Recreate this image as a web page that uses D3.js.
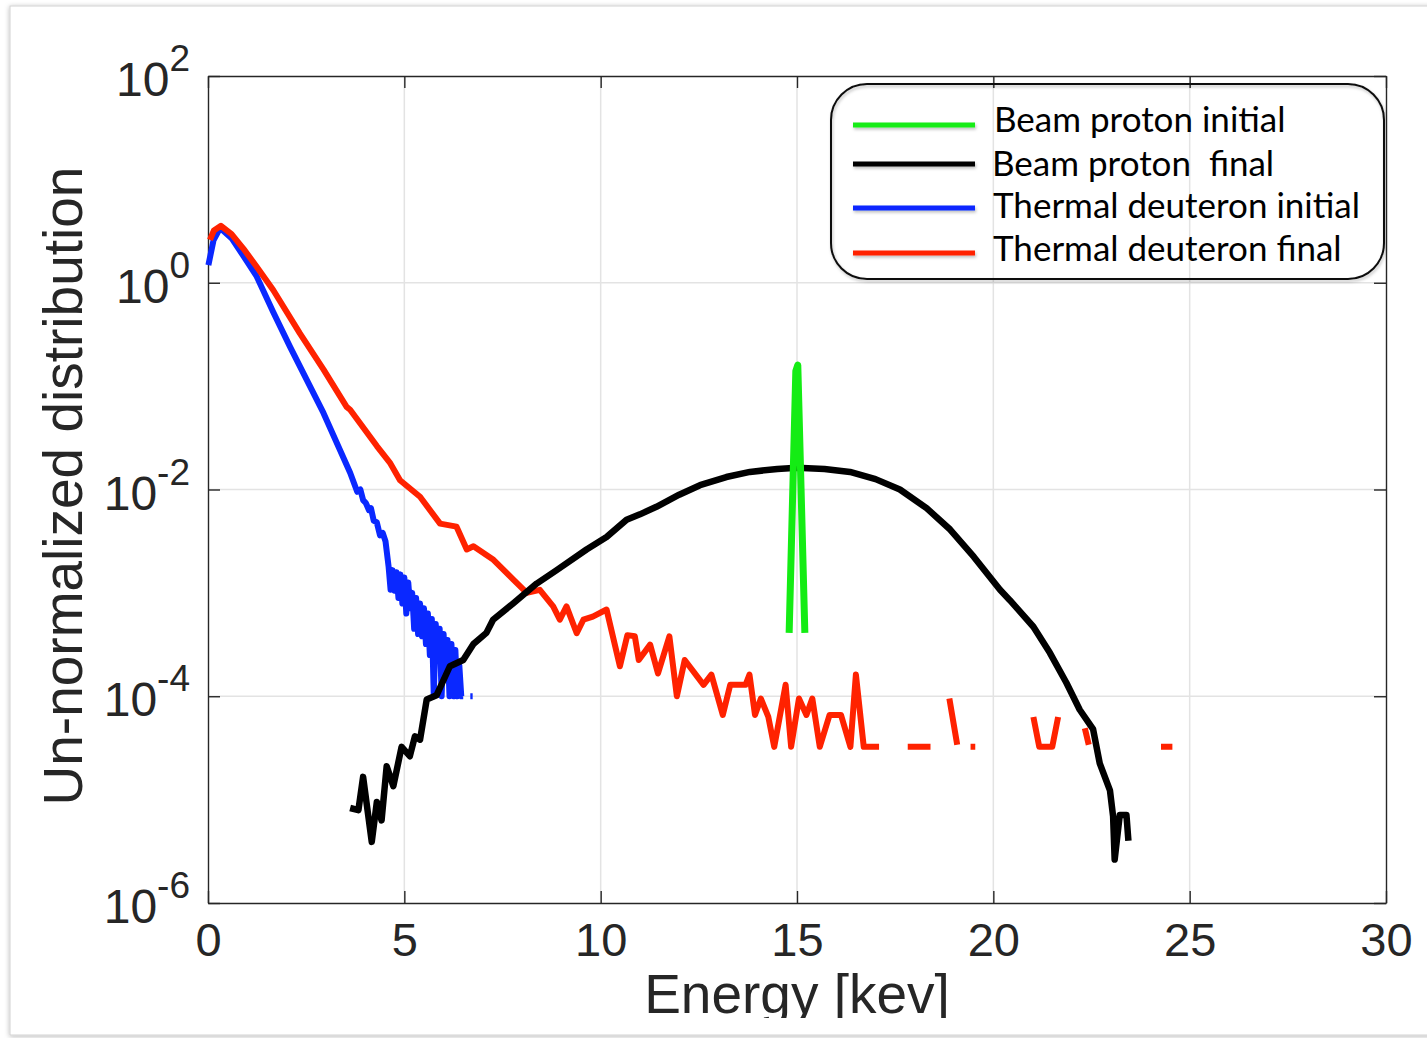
<!DOCTYPE html>
<html>
<head>
<meta charset="utf-8">
<script src="https://cdn.jsdelivr.net/npm/d3@7"></script>
<style>
  body { margin: 0; background: #ffffff; }
  svg { display: block; }
</style>
</head>
<body>
<div id="graph-container"></div>
<script>

/////////////////////////////////////////////////////////////////////////////
                      ///////    Data    ///////
/////////////////////////////////////////////////////////////////////////////

// Energy [keV] and un-normalized distribution; null = empty bin (gap)
var beam_initial_E = [14.8, 14.97, 15.02, 15.2];
var beam_initial_V = [4.1e-4, 0.14, 0.16, 4.1e-4];

var beam_final_E = [3.62, 3.83, 3.95, 4.17, 4.30, 4.42, 4.55, 4.72, 4.93, 5.14, 5.27, 5.40, 5.57, 5.82,
                    6.16, 6.50, 6.76, 7.09, 7.26, 7.77, 8.37, 8.88, 9.64, 10.15, 10.66, 11.0, 11.42, 12.0,
                    12.53, 13.2, 13.8, 14.5, 15.0, 15.7, 16.35, 17.0, 17.62, 18.3, 18.9, 19.5, 20.17,
                    20.42, 21.02, 21.44, 21.86, 22.2, 22.54, 22.71, 22.97, 23.05, 23.09, 23.22, 23.39,
                    23.44];
var beam_final_V = [8.3e-6, 7.9e-6, 1.66e-5, 3.9e-6, 9.5e-6, 6.3e-6, 2.1e-5, 1.35e-5, 3.24e-5, 2.63e-5,
                    4.1e-5, 3.8e-5, 9.3e-5, 1.02e-4, 1.95e-4, 2.24e-4, 3.2e-4, 4.1e-4, 5.5e-4, 7.9e-4,
                    1.23e-3, 1.66e-3, 2.63e-3, 3.47e-3, 5.1e-3, 5.75e-3, 6.8e-3, 8.9e-3, 0.011, 0.0132,
                    0.0148, 0.0158, 0.0162, 0.0158, 0.0148, 0.0126, 0.010, 6.6e-3, 4.1e-3, 2.24e-3,
                    1.07e-3, 8.5e-4, 4.7e-4, 2.63e-4, 1.35e-4, 7.4e-5, 4.8e-5, 2.24e-5, 1.23e-5, 6.9e-6,
                    2.63e-6, 7.1e-6, 7.1e-6, 4.0e-6];

var thermal_initial_E = [0.01, 0.14, 0.31, 0.6, 0.9, 1.24, 1.66, 2.09, 2.94, 3.62, 3.8, 3.88, 3.95, 4.02,
                         4.1, 4.15, 4.22, 4.3, 4.38, 4.45, 4.52, 4.6, 4.65, 4.7, 4.75, 4.8, 4.85, 4.9,
                         4.95, 5.0, 5.05, 5.1, 5.15, 5.2, 5.25, 5.3, 5.35, 5.4, 5.45, 5.5, 5.55, 5.6,
                         5.65, 5.7, 5.75, 5.8, 5.85, 5.9, 5.95, 6.0, 6.05, 6.1, 6.15, 6.2, 6.25, 6.3,
                         6.35, 6.4, 6.45, 6.5, 6.6, 6.68, 6.74];
var thermal_initial_V = [1.48, 2.57, 3.39, 2.7, 1.82, 1.15, 0.52, 0.24, 0.055, 0.0145, 0.0095, 0.010,
                         0.0079, 0.0074, 0.0063, 0.0066, 0.0050, 0.0048, 0.0036, 0.0038, 0.00316,
                         1.78e-3, 1.07e-3, 1.66e-3, 1.05e-3, 1.58e-3, 8.9e-4, 1.51e-3, 7.9e-4, 1.41e-3,
                         6.3e-4, 1.26e-3, 7.1e-4, 1.0e-3, 4.5e-4, 8.9e-4, 4.0e-4, 7.9e-4, 3.8e-4, 7.1e-4,
                         3.2e-4, 6.3e-4, 2.5e-4, 5.6e-4, 1.0e-4, 5.0e-4, 2.2e-4, 4.5e-4, 1.0e-4, 4.0e-4,
                         1.6e-4, 3.5e-4, 1.0e-4, 3.2e-4, 1.0e-4, 2.8e-4, 1.0e-4, 2.0e-4, 1.0e-4, 1.0e-4,
                         null, 1.0e-4, 1.0e-4];

var thermal_final_E = [0.05, 0.15, 0.33, 0.6, 0.9, 1.24, 1.66, 2.34, 2.94, 3.53, 3.62, 4.3, 4.63, 4.89,
                       5.4, 5.91, 6.33, 6.59, 6.76, 7.27, 7.77, 8.12, 8.45, 8.79, 8.96, 9.13, 9.39, 9.56,
                       9.8, 10.15, 10.49, 10.68, 10.87, 10.97, 11.26, 11.46, 11.75, 11.94, 12.14, 12.62,
                       12.82, 13.11, 13.30, 13.69, 13.79, 13.93, 14.08, 14.27, 14.42, 14.71, 14.85,
                       15.05, 15.24, 15.39, 15.58, 15.83, 16.12, 16.36, 16.5, 16.7, 17.09, 17.45,
                       17.82, 18.4, 18.6, 18.88, 19.08, 19.25, 19.42, 19.54, 20.3, 21.02, 21.17, 21.5,
                       21.65, 22.0, 22.33, 22.43, 23.3, 24.27, 24.56];
var thermal_final_V = [2.6, 3.2, 3.55, 2.95, 2.14, 1.43, 0.85, 0.324, 0.145, 0.063, 0.059, 0.0263,
                       0.0182, 0.0123, 0.0085, 0.00468, 0.00437, 0.00263, 0.00282, 0.00209, 0.00135,
                       0.0010, 0.00107, 7.4e-4, 5.5e-4, 7.4e-4, 4.07e-4, 5.5e-4, 5.9e-4, 6.9e-4, 1.95e-4,
                       3.9e-4, 3.8e-4, 2.24e-4, 3.16e-4, 1.66e-4, 3.8e-4, 1.0e-4, 2.24e-4, 1.29e-4,
                       1.62e-4, 6.6e-5, 1.29e-4, 1.29e-4, 1.62e-4, 6.6e-5, 9.5e-5, 6.3e-5, 3.24e-5,
                       1.29e-4, 3.24e-5, 9.5e-5, 6.6e-5, 9.5e-5, 3.24e-5, 6.6e-5, 6.6e-5, 3.24e-5,
                       1.62e-4, 3.24e-5, 3.24e-5, null, 3.24e-5, 3.24e-5, null, 9.5e-5, 3.4e-5, null,
                       3.24e-5, 3.24e-5, null, 6.3e-5, 3.24e-5, 3.24e-5, 6.3e-5, null, 4.9e-5, 3.4e-5,
                       null, 3.24e-5, 3.24e-5];

var x_ticks = [0, 5, 10, 15, 20, 25, 30];
var y_ticks = [1e-6, 1e-4, 1e-2, 1e0, 1e2];
var y_exponents = ['-6', '-4', '-2', '0', '2'];

var series_names = ['Beam proton initial', 'Beam proton\u00a0 final', 'Thermal deuteron initial', 'Thermal deuteron final'];
var series_colors = ['#14ec14', '#000000', '#0a28ff', '#ff2200'];

/////////////////////////////////////////////////////////////////////////////
                      ///////    Set Up Chart    ///////
/////////////////////////////////////////////////////////////////////////////

var W = 1427, H = 1038;
var plot = {left: 208, right: 1386, top: 76, bottom: 903};
var axis_color = '#262626';
var grid_color = '#e3e3e3';

var svg = d3.select('#graph-container').append('svg').attr('width', W).attr('height', H);

var defs = svg.append('defs');
var shadow = defs.append('filter').attr('id', 'frame-shadow')
                 .attr('x', '-5%').attr('y', '-5%').attr('width', '110%').attr('height', '110%');
shadow.append('feDropShadow').attr('dx', 0).attr('dy', 1).attr('stdDeviation', 2.5)
      .attr('flood-color', '#000').attr('flood-opacity', 0.28);
var soft = defs.append('filter').attr('id', 'soft-shadow').attr('filterUnits', 'userSpaceOnUse')
               .attr('x', 0).attr('y', 0).attr('width', W).attr('height', H);
soft.append('feDropShadow').attr('dx', 1).attr('dy', 2).attr('stdDeviation', 1.5)
    .attr('flood-color', '#000').attr('flood-opacity', 0.25);
defs.append('clipPath').attr('id', 'page-clip')
    .append('rect').attr('x', 0).attr('y', 0).attr('width', W).attr('height', 1018);

// slide frame
svg.append('rect').attr('x', 10).attr('y', 6).attr('width', W + 20).attr('height', 1029)
   .attr('fill', '#fff').attr('stroke', '#d2d2d2').attr('stroke-width', 1)
   .attr('filter', 'url(#frame-shadow)');

var x = d3.scaleLinear().domain([0, 30]).range([plot.left, plot.right]);
var y = d3.scaleLog().domain([1e-6, 1e2]).range([plot.bottom, plot.top]);

var g = svg.append('g');

// grid lines
g.append('g').selectAll('line').data(x_ticks.slice(1, -1)).enter().append('line')
 .attr('x1', d => x(d)).attr('x2', d => x(d)).attr('y1', plot.top).attr('y2', plot.bottom)
 .attr('stroke', grid_color).attr('stroke-width', 1.5);
g.append('g').selectAll('line').data(y_ticks.slice(1, -1)).enter().append('line')
 .attr('y1', d => y(d)).attr('y2', d => y(d)).attr('x1', plot.left).attr('x2', plot.right)
 .attr('stroke', grid_color).attr('stroke-width', 1.5);

// axes (ticks point inward, box on)
var tick_len = 12;
function style_axis(sel) {
    sel.select('.domain').attr('stroke', axis_color).attr('stroke-width', 1.4);
    sel.selectAll('.tick line').attr('stroke', axis_color).attr('stroke-width', 1.4);
}
var bottom_axis = g.append('g').attr('transform', `translate(0,${plot.bottom})`)
    .call(d3.axisBottom(x).tickValues(x_ticks).tickSizeInner(-tick_len).tickSizeOuter(0).tickPadding(20).tickFormat(d3.format('d')));
bottom_axis.selectAll('.tick text').attr('font-family', 'Liberation Sans, Arial, sans-serif')
    .attr('font-size', 47).attr('fill', axis_color).attr('dy', '0.71em');
style_axis(bottom_axis);

var top_axis = g.append('g').attr('transform', `translate(0,${plot.top})`)
    .call(d3.axisTop(x).tickValues(x_ticks).tickSizeInner(-tick_len).tickSizeOuter(0).tickFormat(''));
style_axis(top_axis);

var left_axis = g.append('g').attr('transform', `translate(${plot.left},0)`)
    .call(d3.axisLeft(y).tickValues(y_ticks).tickSizeInner(-tick_len).tickSizeOuter(0).tickFormat(''));
style_axis(left_axis);

var right_axis = g.append('g').attr('transform', `translate(${plot.right},0)`)
    .call(d3.axisRight(y).tickValues(y_ticks).tickSizeInner(-tick_len).tickSizeOuter(0).tickFormat(''));
style_axis(right_axis);

// y tick labels 10^n
var ylab = g.append('g').selectAll('text').data(y_ticks).enter().append('text')
    .attr('x', 190).attr('y', d => y(d) + 20)
    .attr('text-anchor', 'end')
    .attr('font-family', 'Liberation Sans, Arial, sans-serif')
    .attr('font-size', 48).attr('fill', axis_color);
ylab.append('tspan').text('10');
ylab.append('tspan').attr('font-size', 37).attr('dy', -25).text((d, i) => y_exponents[i]);

// axis titles
svg.append('text').attr('x', (plot.left + plot.right) / 2).attr('y', 1013)
   .attr('text-anchor', 'middle').attr('clip-path', 'url(#page-clip)')
   .attr('font-family', 'Liberation Sans, Arial, sans-serif').attr('font-size', 55)
   .attr('fill', axis_color).text('Energy [kev]');
svg.append('text').attr('transform', 'translate(82,486) rotate(-90)')
   .attr('text-anchor', 'middle')
   .attr('font-family', 'Liberation Sans, Arial, sans-serif').attr('font-size', 55)
   .attr('fill', axis_color).text('Un-normalized distribution');

/////////////////////////////////////////////////////////////////////////////
                      ///////    Series    ///////
/////////////////////////////////////////////////////////////////////////////

var zip = (E, V) => E.map((e, i) => ({e: e, v: V[i]}));
var series = [
    {data: zip(beam_initial_E, beam_initial_V), width: 7},
    {data: zip(beam_final_E, beam_final_V), width: 6.5},
    {data: zip(thermal_initial_E, thermal_initial_V), width: 6},
    {data: zip(thermal_final_E, thermal_final_V), width: 6}
];

var line = d3.line().defined(d => d.v != null).x(d => x(d.e)).y(d => y(d.v));

var draw_order = [2, 3, 1, 0];
var lines_g = g.append('g');
draw_order.forEach(i => {
    lines_g.append('path').datum(series[i].data)
        .attr('d', line)
        .attr('fill', 'none')
        .attr('stroke', series_colors[i])
        .attr('stroke-width', series[i].width)
        .attr('stroke-linejoin', 'round')
        .attr('stroke-linecap', 'butt');
});

/////////////////////////////////////////////////////////////////////////////
                      ///////    Legend    ///////
/////////////////////////////////////////////////////////////////////////////

var legend = svg.append('g');
legend.append('rect').attr('x', 831).attr('y', 84).attr('width', 553).attr('height', 195)
      .attr('rx', 36).attr('ry', 36)
      .attr('fill', 'none').attr('stroke', '#111').attr('stroke-width', 2)
      .attr('filter', 'url(#soft-shadow)');

var legend_line_y = [125, 164, 208, 253];
var legend_text_y = [132, 176, 218, 261];
var legend_text_x = [994, 992, 993, 993];

legend.selectAll('line.key').data(series_names).enter().append('line')
      .attr('class', 'key')
      .attr('x1', 853).attr('x2', 975)
      .attr('y1', (d, i) => legend_line_y[i]).attr('y2', (d, i) => legend_line_y[i])
      .attr('stroke', (d, i) => series_colors[i]).attr('stroke-width', 5)
      .attr('filter', 'url(#soft-shadow)');

legend.selectAll('text').data(series_names).enter().append('text')
      .attr('x', (d, i) => legend_text_x[i]).attr('y', (d, i) => legend_text_y[i])
      .attr('font-family', 'Lato, sans-serif').attr('font-size', 35)
      .attr('fill', '#000').text(d => d);

</script>
</body>
</html>
